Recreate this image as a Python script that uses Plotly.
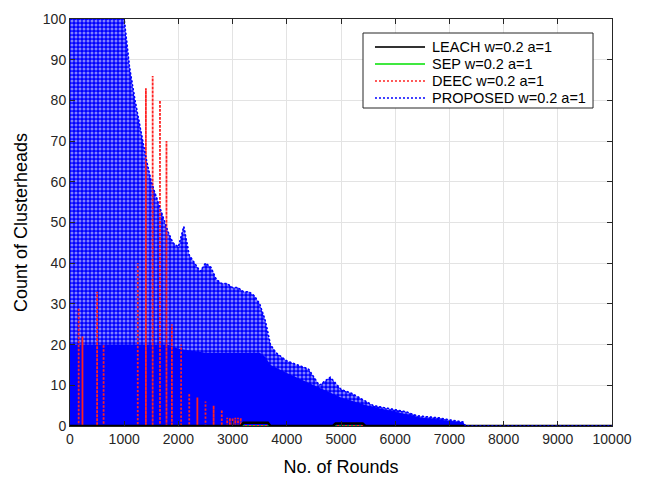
import plotly.graph_objects as go

# ---------------- data ----------------
x_ticks = [0, 1000, 2000, 3000, 4000, 5000, 6000, 7000, 8000, 9000, 10000]
y_ticks = [0, 10, 20, 30, 40, 50, 60, 70, 80, 90, 100]

# PROPOSED: upper envelope of the oscillating count of clusterheads
proposed_env_rounds = [0, 1000, 1050, 1100, 1200, 1300, 1400, 1500, 1600, 1700,
                       1800, 1900, 2000, 2100, 2200, 2300, 2400, 2500, 2600, 2700,
                       2800, 2900, 3000, 3100, 3200, 3300, 3400, 3500, 3600, 3700,
                       3800, 3900, 4000, 4200, 4400, 4600, 4800, 5000, 5200, 5400,
                       5600, 5800, 6000, 6200, 6400, 6600, 6800, 7000, 7250, 7300, 10000]
proposed_env = [100, 100, 94, 88, 80, 73, 66, 60, 56, 52,
                48, 45, 44, 49, 42, 40, 38, 40, 39, 36,
                35, 35, 34, 34, 33, 33, 32, 30, 26, 20,
                18, 17, 16, 15, 14, 10, 12, 9, 8, 6.5,
                5, 4.5, 4, 3.5, 2.5, 2.2, 2, 1.5, 1, 0, 0]
# PROPOSED: dense (fully overlapped) lower band
proposed_core_rounds = [0, 1000, 1800, 2000, 2500, 3000, 3500, 3600, 3700, 4000,
                        4500, 5000, 5500, 6000, 6500, 7000, 7250, 7300]
proposed_core = [20, 20, 20, 19, 18, 18, 18, 17, 15, 13,
                 10, 7, 5, 3.5, 2, 1.3, 0.9, 0]

# DEEC: peaks of the oscillating series (falls back to 0 between peaks)
deec_peak_rounds = [160, 230, 500, 620, 1250, 1400, 1525, 1660, 1780, 1880,
                    2050, 2200, 2350, 2500, 2650, 2800, 2900, 2950, 3000, 3050, 3100, 3150]
deec_peak_counts = [29, 22, 33, 20, 40, 83, 86, 80, 70, 25,
                    20, 8, 7, 6, 5, 4, 2, 2, 2, 2, 2, 2]
deec_end_round = 10000

# LEACH: visible near-zero stretches
leach_rounds = [0, 3150, 3200, 3650, 3700, 4850, 4900, 5400, 5450, 10000]
leach_counts = [0, 0, 0.8, 0.8, 0, 0, 0.6, 0.6, 0, 0]

# SEP
sep_rounds = [0, 10000]
sep_counts = [0, 0]

labels = ["LEACH w=0.2 a=1", "SEP w=0.2 a=1", "DEEC w=0.2 a=1", "PROPOSED w=0.2 a=1"]

BLUE = "#0000ff"
RED = "#ff2020"
GREEN = "#00e000"
BLACK = "#000000"
FONT = "Arial, Liberation Sans, Helvetica, sans-serif"
DOT = "2px,2px"

legend_styles = [
    dict(color="#333333", width=2, dash="solid"),
    dict(color=GREEN, width=1.5, dash="solid"),
    dict(color=RED, width=1.5, dash=DOT),
    dict(color=BLUE, width=1.5, dash=DOT),
]

# ---------------- build DEEC spike series ----------------
deec_x, deec_y = [0], [0]
for r, c in zip(deec_peak_rounds, deec_peak_counts):
    deec_x += [r, r, r]
    deec_y += [0, c, 0]
deec_x.append(deec_end_round)
deec_y.append(0)

fig = go.Figure()

# PROPOSED textured fill (upper envelope)
fig.add_trace(go.Scatter(
    x=proposed_env_rounds, y=proposed_env, mode="lines",
    line=dict(color=BLUE, width=1, dash=DOT),
    fill="tozeroy", fillcolor=BLUE,
    fillpattern=dict(shape=".", bgcolor=BLUE, fgcolor="white",
                     size=4, solidity=0.45),
    showlegend=False, hoverinfo="skip"))
# PROPOSED dense band
fig.add_trace(go.Scatter(
    x=proposed_core_rounds, y=proposed_core, mode="lines",
    line=dict(color=BLUE, width=0), fill="tozeroy", fillcolor=BLUE,
    showlegend=False, hoverinfo="skip"))
# SEP
fig.add_trace(go.Scatter(x=sep_rounds, y=sep_counts, mode="lines", name=labels[1],
                         line=dict(color=GREEN, width=1.5), showlegend=False))
# DEEC
fig.add_trace(go.Scatter(x=deec_x, y=deec_y, mode="lines", name=labels[2],
                         line=dict(color=RED, width=1.8, dash=DOT), showlegend=False))
# LEACH
fig.add_trace(go.Scatter(x=leach_rounds, y=leach_counts, mode="lines", name=labels[0],
                         line=dict(color=BLACK, width=2.5), showlegend=False))
# PROPOSED edge line
fig.add_trace(go.Scatter(x=proposed_env_rounds, y=proposed_env, mode="lines",
                         name=labels[3], line=dict(color=BLUE, width=1.5, dash=DOT),
                         showlegend=False, hoverinfo="skip"))

# ---------------- legend box (paper coordinates of the plot area) ----------------
LEG_X0, LEG_X1, LEG_Y0, LEG_Y1 = 0.5406, 0.965, 0.7813, 0.9656
ROW_TOP, ROW_STEP = 0.9312, 0.0418
SAMPLE_X0, SAMPLE_X1, TEXT_X = 0.5627, 0.655, 0.664

shapes = [dict(type="rect", xref="paper", yref="paper",
               x0=LEG_X0, x1=LEG_X1, y0=LEG_Y0, y1=LEG_Y1,
               line=dict(color="#262626", width=1), fillcolor="white", layer="above")]
annotations = []
for i, (lab, st) in enumerate(zip(labels, legend_styles)):
    yy = ROW_TOP - i * ROW_STEP
    shapes.append(dict(type="line", xref="paper", yref="paper",
                       x0=SAMPLE_X0, x1=SAMPLE_X1, y0=yy, y1=yy,
                       line=st, layer="above"))
    annotations.append(dict(text=lab, xref="paper", yref="paper", x=TEXT_X, y=yy,
                            xanchor="left", yanchor="middle", showarrow=False,
                            font=dict(family=FONT, size=14.5, color="black")))

axis_common = dict(
    showline=True, linecolor="#262626", linewidth=1, mirror="ticks",
    ticks="inside", ticklen=5, tickcolor="#262626",
    showgrid=True, gridcolor="#e3e3e3", gridwidth=1,
    zeroline=False, automargin=False,
    tickfont=dict(family=FONT, size=14, color="#262626"),
)

# the page body adds an 8 px offset, so margins are shifted by -8 on left/top
fig.update_layout(
    width=646, height=478,
    margin=dict(l=62, r=42, t=11, b=60),
    paper_bgcolor="white", plot_bgcolor="white",
    font=dict(family=FONT, color="black"),
    xaxis=dict(range=[0, 10000], tickvals=x_ticks,
               ticktext=[str(v) for v in x_ticks],
               title=dict(text="No. of Rounds", font=dict(size=18), standoff=14),
               **axis_common),
    yaxis=dict(range=[0, 100], tickvals=y_ticks,
               title=dict(text="Count of Clusterheads", font=dict(size=18), standoff=10),
               **axis_common),
    shapes=shapes, annotations=annotations,
    showlegend=False,
)

fig.write_html("out.html")
